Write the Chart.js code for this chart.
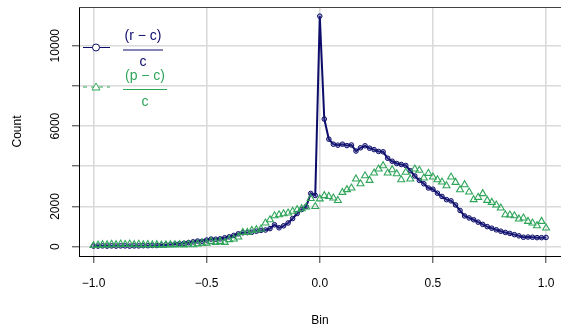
<!DOCTYPE html>
<html>
<head>
<meta charset="utf-8">
<title>Count by bin</title>
<script src="https://cdn.jsdelivr.net/npm/chart.js@4.4.1/dist/chart.umd.min.js"></script>
<style>
  html, body { margin: 0; padding: 0; background: #fff; overflow: hidden; }
  canvas { display: block; }
</style>
</head>
<body>
<canvas id="binChart" width="561" height="333"></canvas>
<script>
// bin centres
const bins = [
  -1.00, -0.98, -0.96, -0.94, -0.92, -0.90, -0.88, -0.86, -0.84, -0.82,
  -0.80, -0.78, -0.76, -0.74, -0.72, -0.70, -0.68, -0.66, -0.64, -0.62,
  -0.60, -0.58, -0.56, -0.54, -0.52, -0.50, -0.48, -0.46, -0.44, -0.42,
  -0.40, -0.38, -0.36, -0.34, -0.32, -0.30, -0.28, -0.26, -0.24, -0.22,
  -0.20, -0.18, -0.16, -0.14, -0.12, -0.10, -0.08, -0.06, -0.04, -0.02,
  0.00,
  0.02, 0.04, 0.06, 0.08, 0.10, 0.12, 0.14, 0.16, 0.18, 0.20,
  0.22, 0.24, 0.26, 0.28, 0.30, 0.32, 0.34, 0.36, 0.38, 0.40,
  0.42, 0.44, 0.46, 0.48, 0.50, 0.52, 0.54, 0.56, 0.58, 0.60,
  0.62, 0.64, 0.66, 0.68, 0.70, 0.72, 0.74, 0.76, 0.78, 0.80,
  0.82, 0.84, 0.86, 0.88, 0.90, 0.92, 0.94, 0.96, 0.98, 1.00
];

// (r - c) / c
const rcCounts = [
  30, 30, 40, 30, 40, 30, 40, 40, 30, 40,
  40, 50, 50, 60, 60, 80, 90, 110, 130, 150,
  170, 200, 240, 280, 270, 330, 380, 370, 390, 440,
  490, 560, 640, 690, 700, 720, 770, 810, 830, 900,
  1090, 940, 1040, 1180, 1400, 1650, 1850, 2000, 2650, 2550,
  11470,
  6350, 5350, 5100, 5050, 5100, 5030, 5060, 4760, 4920, 5020,
  4900, 4830, 4740, 4720, 4400, 4250, 4140, 4090, 4040, 3780,
  3520, 3300, 3130, 2920, 2860, 2660, 2500, 2340, 2280, 2080,
  1800, 1530, 1430, 1340, 1220, 1110, 1000, 920, 840, 770,
  710, 660, 600, 540, 470, 480, 470, 450, 450, 460
];

// (p - c) / c
const pcCounts = [
  60, 80, 100, 90, 120, 100, 130, 110, 130, 100,
  120, 90, 110, 90, 100, 80, 90, 100, 90, 110,
  90, 120, 100, 140, 180, 180, 265, 215, 265, 215,
  350, 380, 480, 710, 710, 810, 845, 880, 1180, 1340,
  1540, 1590, 1640, 1675, 1760, 1840, 1890, 1975, 2400, 2000,
  2380,
  2540, 2500, 2420, 2300, 2700, 2840, 2920, 3370, 3130, 3530,
  3300, 3665, 3865, 4030, 3665, 3830, 3630, 3330, 3700, 3370,
  3865, 3800, 3420, 3650, 3465, 3330, 3215, 3035, 3465, 3200,
  2835, 3085, 2720, 2340, 2455, 2640, 2305, 2205, 2075, 1925,
  1590, 1575, 1540, 1380, 1425, 1260, 1180, 1045, 1260, 930
];

const xTicks = [-1.0, -0.5, 0.0, 0.5, 1.0];
const yTicks = [0, 2000, 4000, 6000, 8000, 10000];
const yLabelled = [0, 2000, 6000, 10000];

const NAVY = "#0c0c6a";
const GREEN = "#2fa55a";
const FONT = "'Liberation Sans', Arial, Helvetica, sans-serif";

const toPoints = (vals) => bins.map((b, i) => ({ x: b, y: vals[i] }));

// box top edge + legend with fraction labels
const boxAndLegend = {
  id: "boxAndLegend",
  afterDraw(chart) {
    const { ctx, chartArea } = chart;
    ctx.save();
    ctx.strokeStyle = "#444";
    ctx.lineWidth = 1;
    ctx.beginPath();
    ctx.moveTo(chartArea.left, chartArea.top + 0.5);
    ctx.lineTo(chartArea.right, chartArea.top + 0.5);
    ctx.stroke();

    const entries = [
      { num: "(r \u2212 c)", color: NAVY, y: 47.5, dash: [], marker: "circle", barL: 123, barR: 163 },
      { num: "(p \u2212 c)", color: GREEN, y: 87, dash: [4, 4], marker: "triangle", barL: 123, barR: 167 }
    ];
    entries.forEach((e) => {
      ctx.strokeStyle = e.color;
      ctx.lineWidth = 1;
      ctx.setLineDash(e.dash);
      ctx.beginPath();
      ctx.moveTo(83, e.y);
      ctx.lineTo(110, e.y);
      ctx.stroke();
      ctx.setLineDash([]);
      ctx.fillStyle = "#fff";
      ctx.beginPath();
      if (e.marker === "circle") {
        ctx.arc(96, e.y, 3.5, 0, Math.PI * 2);
      } else {
        ctx.moveTo(96, e.y - 4);
        ctx.lineTo(100, e.y + 3);
        ctx.lineTo(92, e.y + 3);
        ctx.closePath();
      }
      ctx.fill();
      ctx.stroke();

      const cx = (e.barL + e.barR) / 2;
      ctx.fillStyle = e.color;
      ctx.font = "14px " + FONT;
      ctx.textAlign = "center";
      ctx.textBaseline = "middle";
      ctx.fillText(e.num, cx, e.y - 11);
      ctx.fillText("c", cx, e.y + 15);
      ctx.lineWidth = 1.2;
      ctx.beginPath();
      ctx.moveTo(e.barL, e.y + 2.5);
      ctx.lineTo(e.barR, e.y + 2.5);
      ctx.stroke();
    });
    ctx.restore();
  }
};

const fmtX = (v) => (v < 0 ? "\u2212" + Math.abs(v).toFixed(1) : v.toFixed(1));

new Chart(document.getElementById("binChart").getContext("2d"), {
  type: "scatter",
  data: {
    datasets: [
      {
        label: "(p-c)/c",
        data: toPoints(pcCounts),
        showLine: false,
        pointStyle: "triangle",
        pointRadius: 4,
        pointBorderWidth: 1.1,
        pointBorderColor: GREEN,
        pointBackgroundColor: "rgba(255,255,255,0)",
        order: 0
      },
      {
        label: "(r-c)/c",
        data: toPoints(rcCounts),
        showLine: true,
        borderColor: NAVY,
        borderWidth: 2,
        pointStyle: "circle",
        pointRadius: 2.3,
        pointBorderWidth: 1,
        pointBorderColor: NAVY,
        pointBackgroundColor: "rgba(60,60,150,0.35)",
        order: 1
      }
    ]
  },
  options: {
    responsive: false,
    animation: false,
    events: [],
    layout: { autoPadding: false, padding: { top: 7, right: 0, left: 0, bottom: 0 } },
    scales: {
      x: {
        type: "linear",
        min: -1.064,
        max: 1.066,
        afterBuildTicks: (scale) => { scale.ticks = xTicks.map((v) => ({ value: v })); },
        afterFit: (scale) => { scale.height = 77; scale.paddingLeft = 0; scale.paddingRight = 0; },
        ticks: {
          callback: (v) => fmtX(v),
          color: "#000",
          font: { family: FONT, size: 12, lineHeight: 2.7 },
          padding: 4,
          maxRotation: 0,
          autoSkip: false
        },
        grid: { color: "#dadada", lineWidth: 1.6, tickColor: "#333", tickLength: 7, tickWidth: 1 },
        border: { display: true, color: "#000", width: 1 },
        title: { display: true, text: "Bin", color: "#000", font: { family: FONT, size: 12 }, padding: { top: 0, bottom: 5 } }
      },
      y: {
        type: "linear",
        min: -463,
        max: 11925,
        afterBuildTicks: (scale) => { scale.ticks = yTicks.map((v) => ({ value: v })); },
        afterFit: (scale) => { scale.width = 79; scale.paddingTop = 0; scale.paddingBottom = 0; },
        ticks: {
          callback: (v) => (yLabelled.includes(v) ? String(v) : ""),
          color: "#000",
          font: { family: FONT, size: 12 },
          padding: 0,
          minRotation: 90,
          maxRotation: 90,
          crossAlign: "center",
          autoSkip: false
        },
        grid: { color: "#dadada", lineWidth: 1.6, tickColor: "#333", tickLength: 7, tickWidth: 1 },
        border: { display: true, color: "#000", width: 1 },
        title: { display: true, text: "Count", color: "#000", font: { family: FONT, size: 12 }, padding: { top: 10, bottom: 0 } }
      }
    },
    plugins: {
      legend: { display: false },
      tooltip: { enabled: false }
    }
  },
  plugins: [boxAndLegend]
});
</script>
</body>
</html>
